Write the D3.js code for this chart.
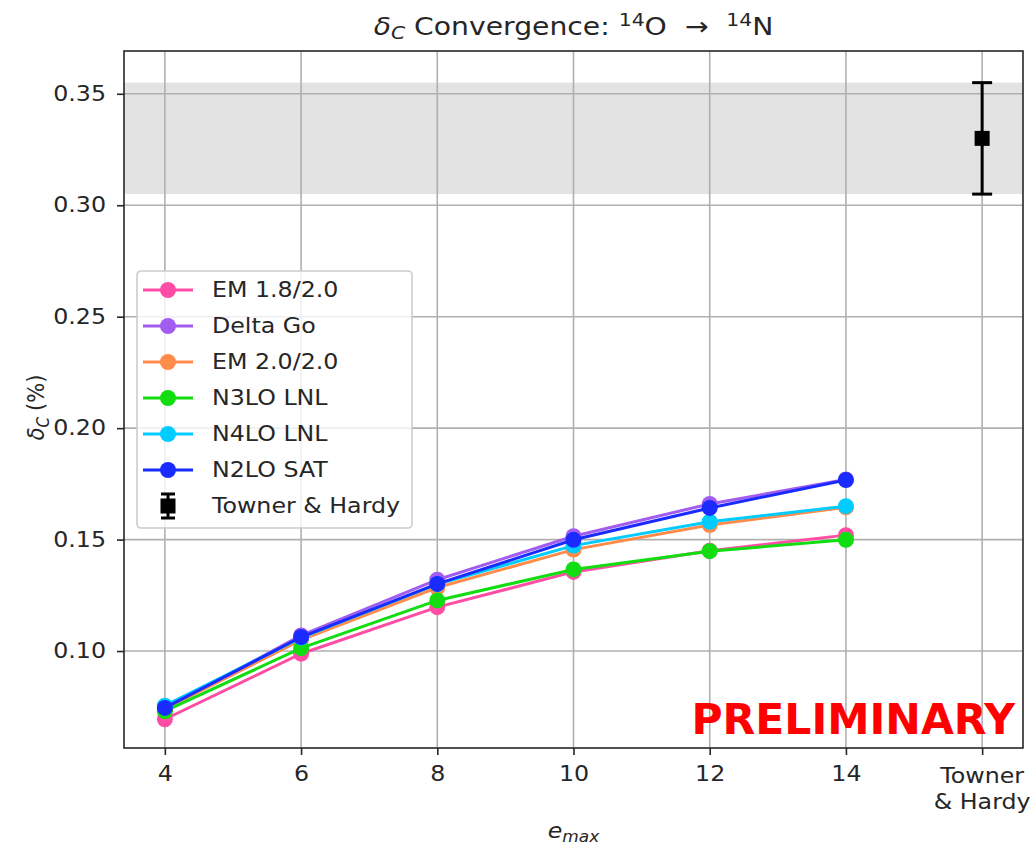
<!DOCTYPE html>
<html>
<head>
<meta charset="utf-8">
<script src="https://cdn.jsdelivr.net/npm/d3@7"></script>
<style>
  body { margin: 0; background: white; }
  text { font-family: "DejaVu Sans", sans-serif; fill: #262626; }
</style>
</head>
<body>
<div id="graph-container"></div>
<script>
// data
const emax = [4, 6, 8, 10, 12, 14];
const seriesNames = ['EM 1.8/2.0', 'Delta Go', 'EM 2.0/2.0', 'N3LO LNL', 'N4LO LNL', 'N2LO SAT'];
const seriesColors = ['#ff4da6', '#a35cf0', '#ff8c4a', '#11dd11', '#00ccff', '#1a2bff'];
const em18 = [0.0694, 0.0988, 0.1197, 0.1355, 0.1450, 0.1520];
const deltaGo = [0.0740, 0.1070, 0.1320, 0.1515, 0.1660, 0.1770];
const em20 = [0.0740, 0.1050, 0.1285, 0.1455, 0.1565, 0.1645];
const n3lo = [0.0730, 0.1013, 0.1227, 0.1366, 0.1448, 0.1499];
const n4lo = [0.0755, 0.1060, 0.1300, 0.1473, 0.1580, 0.1650];
const n2loSat = [0.0745, 0.1063, 0.1301, 0.1499, 0.1642, 0.1767];
const seriesValues = [em18, deltaGo, em20, n3lo, n4lo, n2loSat];
const thPos = 16;          // x slot used for Towner & Hardy
const thValue = 0.330;
const thError = 0.025;
const yTicks = [0.10, 0.15, 0.20, 0.25, 0.30, 0.35];

// the reference text is a bit wider than plain DejaVu, stretch it sideways
const SX = 1.13;
const FS = 21;

const stretch = (sel) => {
  sel.each(function () {
    const t = d3.select(this);
    const x = +t.attr('x') || 0;
    const y = +t.attr('y') || 0;
    t.attr('x', null).attr('y', null)
      .attr('transform', `translate(${x},${y}) scale(${SX},1)`);
  });
};

const main = () => {
  const width = 1033;
  const height = 849;
  const margin = { left: 124, right: 10, top: 51, bottom: 101 };
  const innerW = width - margin.left - margin.right;
  const innerH = height - margin.top - margin.bottom;

  const svg = d3.select('#graph-container')
    .append('svg')
    .attr('width', width)
    .attr('height', height)
    .style('background', 'white');

  const g = svg.append('g').attr('transform', `translate(${margin.left},${margin.top})`);

  const x = d3.scaleLinear().domain([3.4, 16.6]).range([0, innerW]);
  const y = d3.scaleLinear().domain([0.0565, 0.3692]).range([innerH, 0]);

  svg.append('defs').append('clipPath').attr('id', 'clip')
    .append('rect').attr('width', innerW).attr('height', innerH);

  // Towner & Hardy band
  g.append('rect')
    .attr('x', 0)
    .attr('width', innerW)
    .attr('y', y(thValue + thError))
    .attr('height', y(thValue - thError) - y(thValue + thError))
    .attr('fill', '#e3e3e3');

  // grid
  const xTickVals = [...emax, thPos];
  g.selectAll('line.xgrid')
    .data(xTickVals)
    .join('line')
    .attr('class', 'xgrid')
    .attr('x1', d => x(d)).attr('x2', d => x(d))
    .attr('y1', 0).attr('y2', innerH)
    .attr('stroke', '#b0b0b0').attr('stroke-width', 1.6);

  g.selectAll('line.ygrid')
    .data(yTicks)
    .join('line')
    .attr('class', 'ygrid')
    .attr('x1', 0).attr('x2', innerW)
    .attr('y1', d => y(d)).attr('y2', d => y(d))
    .attr('stroke', '#b0b0b0').attr('stroke-width', 1.6);

  // series
  const line = d3.line().x((d, i) => x(emax[i])).y(d => y(d));
  const plot = g.append('g').attr('clip-path', 'url(#clip)');
  seriesValues.forEach((vals, si) => {
    const sg = plot.append('g').attr('class', `series-${si}`);
    sg.append('path')
      .datum(vals)
      .attr('d', line)
      .attr('fill', 'none')
      .attr('stroke', seriesColors[si])
      .attr('stroke-width', 3);
    sg.selectAll('circle')
      .data(vals)
      .join('circle')
      .attr('cx', (d, i) => x(emax[i]))
      .attr('cy', d => y(d))
      .attr('r', 8)
      .attr('fill', seriesColors[si]);
  });

  // Towner & Hardy error bar
  const th = g.append('g');
  th.append('line')
    .attr('x1', x(thPos)).attr('x2', x(thPos))
    .attr('y1', y(thValue + thError)).attr('y2', y(thValue - thError))
    .attr('stroke', 'black').attr('stroke-width', 3);
  [thValue + thError, thValue - thError].forEach(v => {
    th.append('line')
      .attr('x1', x(thPos) - 10).attr('x2', x(thPos) + 10)
      .attr('y1', y(v)).attr('y2', y(v))
      .attr('stroke', 'black').attr('stroke-width', 3);
  });
  th.append('rect')
    .attr('x', x(thPos) - 7.5).attr('y', y(thValue) - 7.5)
    .attr('width', 15).attr('height', 15)
    .attr('fill', 'black');

  // axes
  const xAxis = d3.axisBottom(x).tickValues(xTickVals).tickSize(7).tickPadding(8)
    .tickFormat(d => d === thPos ? '' : d);
  const xg = g.append('g').attr('transform', `translate(0,${innerH})`).call(xAxis);
  const yAxis = d3.axisLeft(y).tickValues(yTicks).tickSize(7).tickPadding(11)
    .tickFormat(d3.format('.2f'));
  const yg = g.append('g').call(yAxis);
  [xg, yg].forEach(a => {
    a.select('.domain').remove();
    a.selectAll('.tick line').attr('stroke', '#262626').attr('stroke-width', 1.6);
    a.selectAll('.tick text').attr('font-size', FS).attr('fill', '#262626')
      .attr('font-family', '"DejaVu Sans", sans-serif');
  });
  xg.selectAll('.tick text').attr('dy', '0.88em');
  stretch(xg.selectAll('.tick text'));
  stretch(yg.selectAll('.tick text'));

  // two-line label for Towner & Hardy
  const thLabel = xg.append('text')
    .attr('x', x(thPos))
    .attr('y', 35)
    .attr('text-anchor', 'middle')
    .attr('font-size', FS)
    .attr('fill', '#262626');
  thLabel.append('tspan').attr('x', 0).text('Towner');
  thLabel.append('tspan').attr('x', 0).attr('dy', 26).text('& Hardy');
  stretch(thLabel);

  // frame
  g.append('rect')
    .attr('width', innerW).attr('height', innerH)
    .attr('fill', 'none').attr('stroke', '#262626').attr('stroke-width', 1.6);

  // PRELIMINARY
  g.append('text')
    .attr('x', innerW - 8)
    .attr('y', innerH - 14)
    .attr('text-anchor', 'end')
    .attr('font-size', 42.5)
    .attr('font-weight', 'bold')
    .style('fill', 'red')
    .text('PRELIMINARY');

  // title
  const title = svg.append('text')
    .attr('x', margin.left + innerW / 2)
    .attr('y', 35)
    .attr('text-anchor', 'middle')
    .attr('font-size', 25);
  title.append('tspan').attr('font-style', 'italic').text('δ');
  title.append('tspan').attr('font-style', 'italic').attr('font-size', 18).attr('dy', 4).text('C');
  title.append('tspan').attr('dy', -4).text('\u00a0Convergence:\u00a0');
  title.append('tspan').attr('font-size', 18).attr('dy', -9).text('14');
  title.append('tspan').attr('dy', 9).text('O\u00a0\u00a0\u2192\u00a0\u00a0');
  title.append('tspan').attr('font-size', 18).attr('dy', -9).text('14');
  title.append('tspan').attr('dy', 9).text('N');
  stretch(title);

  // axis labels
  const xl = svg.append('text')
    .attr('x', margin.left + innerW / 2)
    .attr('y', 838)
    .attr('text-anchor', 'middle')
    .attr('font-size', FS);
  xl.append('tspan').attr('font-style', 'italic').text('e');
  xl.append('tspan').attr('font-style', 'italic').attr('font-size', 15).attr('dy', 4).text('max');
  stretch(xl);

  const yl = svg.append('text')
    .attr('transform', `translate(44,${margin.top + innerH / 2 + 8}) rotate(-90) scale(1,${SX})`)
    .attr('text-anchor', 'middle')
    .attr('font-size', FS);
  yl.append('tspan').attr('font-style', 'italic').text('δ');
  yl.append('tspan').attr('font-style', 'italic').attr('font-size', 15).attr('dy', 4).text('C');
  yl.append('tspan').attr('dy', -4).attr('dx', 6).text('(%)');

  // legend
  const lg = svg.append('g').attr('transform', 'translate(137,271)');
  lg.append('rect')
    .attr('width', 275).attr('height', 257)
    .attr('rx', 4)
    .attr('fill', 'white').attr('fill-opacity', 0.8)
    .attr('stroke', '#cccccc').attr('stroke-width', 1.6);
  const rowY = i => 19 + i * 36;
  seriesNames.forEach((name, i) => {
    lg.append('line')
      .attr('x1', 6).attr('x2', 56)
      .attr('y1', rowY(i)).attr('y2', rowY(i))
      .attr('stroke', seriesColors[i]).attr('stroke-width', 3);
    lg.append('circle')
      .attr('cx', 31).attr('cy', rowY(i)).attr('r', 8)
      .attr('fill', seriesColors[i]);
    lg.append('text')
      .attr('class', 'legend-text')
      .attr('x', 75).attr('y', rowY(i)).attr('dy', '0.35em')
      .attr('font-size', FS)
      .text(name);
  });
  const ti = seriesNames.length;
  lg.append('line')
    .attr('x1', 31).attr('x2', 31).attr('y1', rowY(ti) - 12).attr('y2', rowY(ti) + 12)
    .attr('stroke', 'black').attr('stroke-width', 3);
  [-12, 12].forEach(o => {
    lg.append('line')
      .attr('x1', 24).attr('x2', 38).attr('y1', rowY(ti) + o).attr('y2', rowY(ti) + o)
      .attr('stroke', 'black').attr('stroke-width', 3);
  });
  lg.append('rect')
    .attr('x', 31 - 7.5).attr('y', rowY(ti) - 7.5).attr('width', 15).attr('height', 15)
    .attr('fill', 'black');
  lg.append('text')
    .attr('class', 'legend-text')
    .attr('x', 75).attr('y', rowY(ti)).attr('dy', '0.35em')
    .attr('font-size', FS)
    .text('Towner & Hardy');
  stretch(lg.selectAll('text.legend-text'));
};

main();
</script>
</body>
</html>
